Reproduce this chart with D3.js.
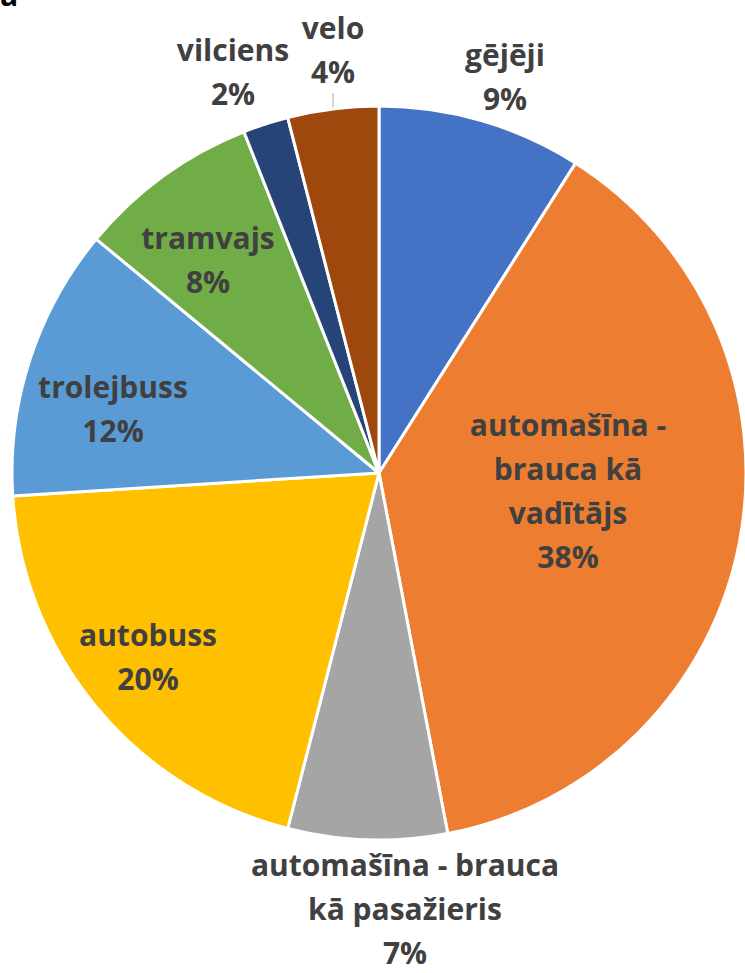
<!DOCTYPE html>
<html><head><meta charset="utf-8">
<script src="https://cdn.jsdelivr.net/npm/d3@7"></script>
<style>body{margin:0;background:#fff}svg{display:block}</style>
</head><body>
<script>
const categories = ["gējēji","automašīna - brauca kā vadītājs","automašīna - brauca kā pasažieris","autobuss","trolejbuss","tramvajs","vilciens","velo"];
const values = [9,38,7,20,12,8,2,4];
const colors = ["#4472C4","#ED7D31","#A5A5A5","#FFC000","#5B9BD5","#70AD47","#264478","#9E480E"];
const labelLines = [["gējēji"],["automašīna -","brauca kā","vadītājs"],["automašīna - brauca","kā pasažieris"],["autobuss"],["trolejbuss"],["tramvajs"],["vilciens"],["velo"]];
const labelPos = [[505,55],[568,425],[405,865],[148,635],[113,387],[208,238],[233,50],[333,28]];

const W=745,H=973,cx=379,cy=473,R=367;
const FONT="'Open Sans', Calibri, sans-serif";
const svg=d3.select("body").append("svg").attr("width",W).attr("height",H);
svg.append("text").attr("x",0).attr("y",6).attr("font-family",FONT).attr("font-weight","bold").attr("font-size",30).attr("fill","#000").text("a");

const pie=d3.pie().sort(null).value(d=>d)(values);
const arc=d3.arc().innerRadius(0).outerRadius(R);
const g=svg.append("g").attr("transform",`translate(${cx},${cy})`);
g.selectAll("path").data(pie).join("path").attr("d",arc).attr("fill",(d,i)=>colors[i]).attr("stroke","#fff").attr("stroke-width",3).attr("stroke-linejoin","round");

// leader line for velo
svg.append("line").attr("x1",333).attr("x2",333).attr("y1",93).attr("y2",107).attr("stroke","#A6A6A6").attr("stroke-width",1);

const lh=44;
categories.forEach((c,i)=>{
  const lines=labelLines[i].concat([values[i]+"%"]);
  const t=svg.append("text").attr("text-anchor","middle").attr("font-family",FONT).attr("font-weight","bold").attr("font-size",30).attr("fill","#404040");
  lines.forEach((l,k)=>{
    t.append("tspan").attr("x",labelPos[i][0]).attr("y",labelPos[i][1]+k*lh).attr("dy","0.35em").text(l);
  });
});
</script>
</body></html>
